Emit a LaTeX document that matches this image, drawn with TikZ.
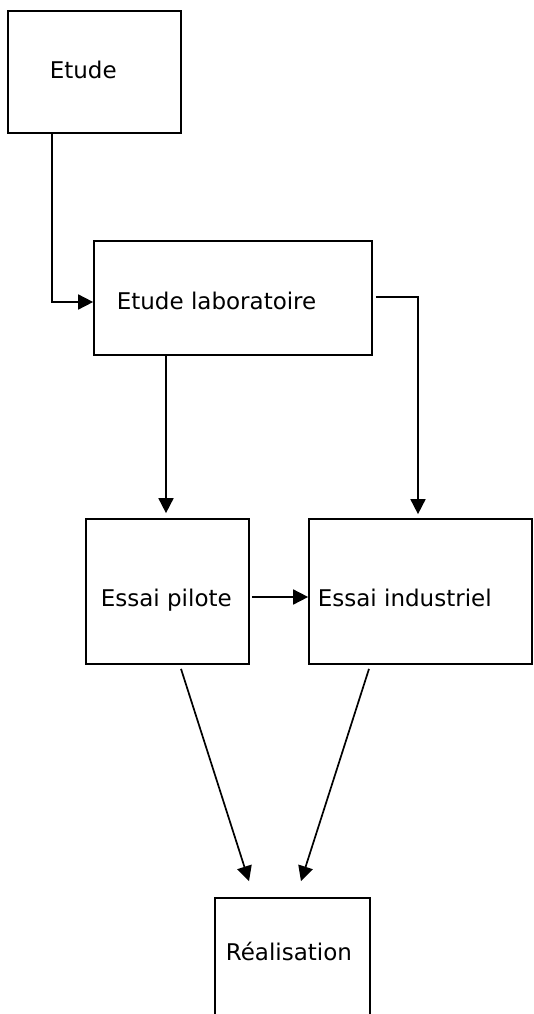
\documentclass[tikz,border=0pt]{standalone}
\usepackage{fontspec}
\setmainfont{DejaVu Sans}
\usetikzlibrary{arrows.meta}

\begin{document}
\begin{tikzpicture}[x=1pt, y=-1pt, line width=1.7pt,
    box/.style={draw, inner sep=0pt},
    lbl/.style={anchor=base west, inner sep=0pt, font=\fontsize{23}{28}\selectfont},
    arr/.style={-{Triangle[length=15pt, width=15pt]}}]
    \useasboundingbox (0,0) rectangle (533,1014);
    % boxes
    \node[box, minimum width=173, minimum height=122] (etude) at (94.5,72) {};
    \node[box, minimum width=278, minimum height=114] (labo) at (233,298) {};
    \node[box, minimum width=163, minimum height=145] (pilote) at (167.5,591.5) {};
    \node[box, minimum width=223, minimum height=145] (indus) at (420.5,591.5) {};
    \node[box, minimum width=155, minimum height=130] (real) at (292.5,963) {};
    % texts
    \node[lbl] (etude-t) at (49,79) {Etude};
    \node[lbl] (labo-t) at (116,309) {Etude laboratoire};
    \node[lbl] (pilote-t) at (100,606) {Essai pilote};
    \node[lbl] (indus-t) at (317,606) {Essai industriel};
    \node[lbl] (real-t) at (225,960) {Réalisation};
    % arrows
    \draw[arr] ([xshift=-42.5pt]etude.south) |- ([yshift=-4pt]labo.west);
    \draw[arr] ([xshift=3pt,yshift=1pt]labo.east) -| ([xshift=-2.5pt,yshift=4pt]indus.north);
    \draw[arr] ([xshift=-67pt]labo.south) -- ([xshift=-1.5pt,yshift=5pt]pilote.north);
    \draw[arr] ([xshift=2pt,yshift=-5.5pt]pilote.east) -- ([yshift=-5.5pt]indus.west);
    \draw[arr] ([xshift=13.5pt,yshift=-4pt]pilote.south) -- ([xshift=-43.5pt,yshift=16pt]real.north);
    \draw[arr] ([xshift=-51.5pt,yshift=-4pt]indus.south) -- ([xshift=8.5pt,yshift=16pt]real.north);
\end{tikzpicture}
\end{document}
